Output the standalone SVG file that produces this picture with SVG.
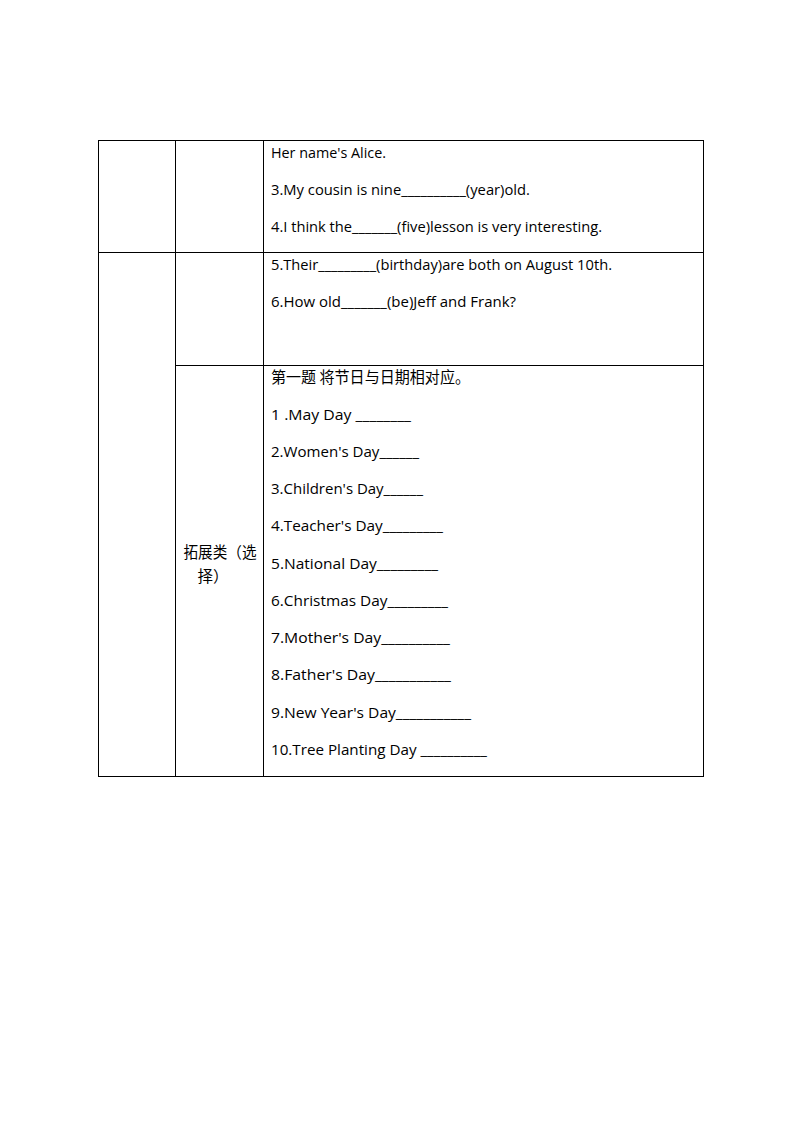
<svg xmlns="http://www.w3.org/2000/svg" width="794" height="1123" viewBox="0 0 794 1123">
<style>
.ln{stroke:#000;stroke-width:1;fill:none}
.t{font-family:"Open Sans","Liberation Sans",sans-serif;font-size:14px;fill:#000}
.c{font-family:"Noto Sans CJK SC",sans-serif;font-size:15.5px;fill:#000}
</style>
<rect width="794" height="1123" fill="#fff"/>
<g id="table">
<rect class="ln" x="98.5" y="140.5" width="605" height="636"/>
<line class="ln" x1="175.5" y1="140.5" x2="175.5" y2="776.5"/>
<line class="ln" x1="263.5" y1="140.5" x2="263.5" y2="776.5"/>
<line class="ln" x1="98.5" y1="252.5" x2="703.5" y2="252.5"/>
<line class="ln" x1="175.5" y1="365.5" x2="703.5" y2="365.5"/>
</g>
<g id="row1">
<text class="t" x="271" y="158" textLength="115" lengthAdjust="spacingAndGlyphs">Her name's Alice.</text>
<text class="t" x="271" y="195" textLength="259" lengthAdjust="spacingAndGlyphs">3.My cousin is nine__________(year)old.</text>
<text class="t" x="271" y="232" textLength="331" lengthAdjust="spacingAndGlyphs">4.I think the_______(five)lesson is very interesting.</text>
</g>
<g id="row2">
<text class="t" x="271" y="270" textLength="341" lengthAdjust="spacingAndGlyphs">5.Their_________(birthday)are both on August 10th.</text>
<text class="t" x="271" y="307" textLength="245" lengthAdjust="spacingAndGlyphs">6.How old_______(be)Jeff and Frank?</text>
</g>
<g id="row3-label">
<text class="c" x="220" y="558" text-anchor="middle" textLength="73" lengthAdjust="spacingAndGlyphs">拓展类（选</text>
<text class="c" x="213" y="582" text-anchor="middle">择）</text>
</g>
<g id="row3">
<text class="c" x="271" y="383" textLength="199" lengthAdjust="spacingAndGlyphs">第一题 将节日与日期相对应。</text>
<text class="t" x="271" y="420" textLength="140" lengthAdjust="spacingAndGlyphs">1 .May Day ________</text>
<text class="t" x="271" y="457" textLength="148" lengthAdjust="spacingAndGlyphs">2.Women's Day______</text>
<text class="t" x="271" y="494" textLength="152" lengthAdjust="spacingAndGlyphs">3.Children's Day______</text>
<text class="t" x="271" y="531" textLength="172" lengthAdjust="spacingAndGlyphs">4.Teacher's Day_________</text>
<text class="t" x="271" y="569" textLength="167" lengthAdjust="spacingAndGlyphs">5.National Day_________</text>
<text class="t" x="271" y="606" textLength="177" lengthAdjust="spacingAndGlyphs">6.Christmas Day_________</text>
<text class="t" x="271" y="643" textLength="179" lengthAdjust="spacingAndGlyphs">7.Mother's Day__________</text>
<text class="t" x="271" y="680" textLength="180" lengthAdjust="spacingAndGlyphs">8.Father's Day___________</text>
<text class="t" x="271" y="718" textLength="200" lengthAdjust="spacingAndGlyphs">9.New Year's Day___________</text>
<text class="t" x="271" y="755" textLength="216" lengthAdjust="spacingAndGlyphs">10.Tree Planting Day __________</text>
</g>
</svg>
